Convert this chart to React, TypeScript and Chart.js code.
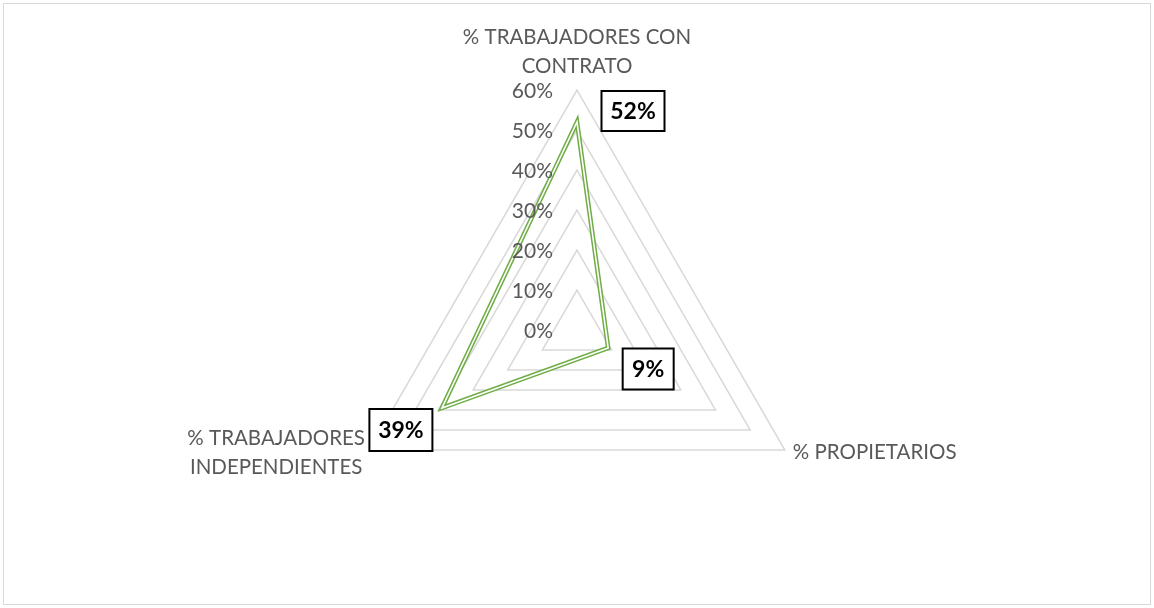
import React, { useEffect, useRef } from "react";
import { Chart, registerables } from "chart.js";

Chart.register(...registerables);

const categories: string[][] = [
  ["% TRABAJADORES CON", "CONTRATO"],
  ["% PROPIETARIOS"],
  ["% TRABAJADORES", "INDEPENDIENTES"],
];
const values: number[] = [52, 9, 39];
const valueLabels: string[] = ["52%", "9%", "39%"];
const tickValues: number[] = [0, 10, 20, 30, 40, 50, 60];
const tickLabels: string[] = ["0%", "10%", "20%", "30%", "40%", "50%", "60%"];

const FONT = "Lato, 'Open Sans', sans-serif";
const GRAY = "#595959";

export default function App() {
  const canvasRef = useRef<HTMLCanvasElement | null>(null);

  useEffect(() => {
    const canvas = canvasRef.current;
    if (!canvas) return;

    const overlay = {
      id: "overlay",
      afterDraw(chart: any) {
        const ctx = chart.ctx as CanvasRenderingContext2D;
        const scale = chart.scales.r;
        const cx = scale.xCenter;
        const cy = scale.yCenter;
        ctx.save();
        // tick labels
        ctx.font = `21px ${FONT}`;
        ctx.fillStyle = GRAY;
        ctx.textAlign = "right";
        ctx.textBaseline = "middle";
        tickValues.forEach((v, i) => {
          const d = scale.getDistanceFromCenterForValue(v);
          ctx.fillText(tickLabels[i], cx - 24, cy - d + 1);
        });
        // point labels
        ctx.font = `20.5px ${FONT}`;
        const outer = scale.getDistanceFromCenterForValue(60);
        const placements = [
          { dx: 0, dy: -53, align: "center" as CanvasTextAlign },
          { dx: 8, dy: 2, align: "left" as CanvasTextAlign },
          { dx: -93, dy: -12, align: "center" as CanvasTextAlign },
        ];
        categories.forEach((lines, i) => {
          const p = scale.getPointPosition(i, outer);
          const pl = placements[i];
          ctx.textAlign = pl.align;
          lines.forEach((ln, j) => {
            ctx.fillText(ln, p.x + pl.dx, p.y + pl.dy + j * 29);
          });
        });
        // data labels
        const boxes = [
          { dx: 56, dy: -11, w: 63, h: 40 },
          { dx: 40, dy: 21, w: 51, h: 41 },
          { dx: -41, dy: 22, w: 63, h: 42 },
        ];
        values.forEach((v, i) => {
          const d = scale.getDistanceFromCenterForValue(v);
          const p = scale.getPointPosition(i, d);
          const b = boxes[i];
          const bx = p.x + b.dx - b.w / 2;
          const by = p.y + b.dy - b.h / 2;
          ctx.fillStyle = "#ffffff";
          ctx.fillRect(bx, by, b.w, b.h);
          ctx.lineWidth = 2;
          ctx.strokeStyle = "#000000";
          ctx.strokeRect(bx, by, b.w, b.h);
          ctx.fillStyle = "#000000";
          ctx.font = `bold 23px ${FONT}`;
          ctx.textAlign = "center";
          ctx.textBaseline = "middle";
          ctx.fillText(valueLabels[i], p.x + b.dx, p.y + b.dy + 1);
        });
        ctx.restore();
      },
    };

    const chart = new Chart(canvas, {
      type: "radar",
      data: {
        labels: categories.map((c) => c.join(" ")),
        datasets: [
          {
            data: values,
            borderColor: "#ffffff",
            borderWidth: 1.6,
            borderJoinStyle: "miter",
            pointRadius: 0,
            fill: false,
            order: 0,
          },
          {
            data: values,
            borderColor: "#70ad47",
            borderWidth: 4.6,
            borderJoinStyle: "miter",
            pointRadius: 0,
            fill: false,
            order: 1,
          },
        ],
      },
      options: {
        animation: false,
        responsive: false,
        maintainAspectRatio: false,
        layout: { padding: { top: 90, bottom: 38, left: 0, right: 0 } },
        plugins: {
          legend: { display: false },
          tooltip: { enabled: false },
        },
        scales: {
          r: {
            min: 0,
            max: 60,
            ticks: { stepSize: 10, display: false },
            pointLabels: { display: false },
            angleLines: { display: false },
            grid: { color: "#d9d9d9", lineWidth: 1.5 },
          },
        },
      },
      plugins: [overlay],
    } as any);

    return () => chart.destroy();
  }, []);

  return (
    <div style={{ position: "fixed", left: 0, top: 0, width: 1154, height: 608, background: "#fff" }}>
      <canvas ref={canvasRef} width={1154} height={608} style={{ position: "absolute", left: 0, top: 0 }} />
      <div
        style={{
          position: "absolute",
          left: 3,
          top: 3,
          width: 1146,
          height: 600,
          border: "1px solid #d9d9d9",
          pointerEvents: "none",
        }}
      />
    </div>
  );
}
